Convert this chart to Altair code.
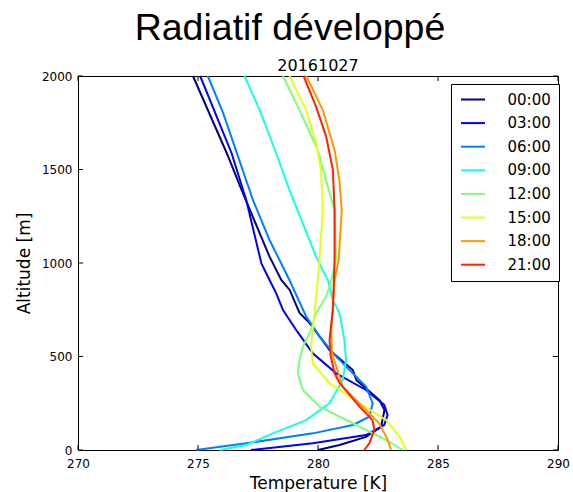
import altair as alt
import pandas as pd

# Hours of the day, one vertical profile each, coloured along the jet colormap
TIMES = ["00:00", "03:00", "06:00", "09:00", "12:00", "15:00", "18:00", "21:00"]
COLORS = ["#000080", "#0000ff", "#0080ff", "#15ffe2", "#7bff7b", "#e2ff15", "#ff9700", "#ff2100"]

# Altitude [m] and temperature [K] of each profile
ALT_00 = [2000, 1587, 1374, 1034, 909, 856, 733, 679, 588, 535, 428, 374, 267, 214, 123, 70, 27, 0]
T_00 = [274.79, 276.2, 276.87, 277.98, 278.47, 278.82, 279.23, 279.65, 280.18, 280.48, 281.45, 281.6,
        282.56, 282.77, 282.63, 282.0, 280.9, 280.0]

ALT_03 = [2000, 1587, 1337, 998, 909, 838, 749, 642, 517, 410, 321, 241, 187, 134, 80, 36, 0]
T_03 = [275.09, 276.4, 277.01, 277.64, 277.98, 278.26, 278.54, 279.09, 279.78, 280.76, 282.0, 282.76,
        282.9, 282.76, 282.0, 279.78, 277.2]

ALT_06 = [2000, 1801, 1569, 1337, 1123, 909, 713, 606, 499, 339, 250, 178, 134, 89, 36, 0]
T_06 = [275.41, 276.05, 276.67, 277.29, 277.98, 278.81, 279.51, 280.07, 280.76, 282.0, 282.28, 282.14,
        281.45, 279.79, 277.01, 274.93]

ALT_09 = [2000, 1818, 1587, 1390, 1034, 909, 802, 731, 588, 481, 374, 250, 160, 89, 27, 0]
T_09 = [276.94, 277.57, 278.26, 278.81, 279.92, 280.41, 280.62, 280.9, 281.1, 281.17, 281.03, 280.48,
        279.51, 278.12, 277.02, 275.9]

ALT_12 = [2000, 1818, 1604, 1408, 1284, 1016, 945, 873, 820, 731, 642, 552, 481, 410, 321, 232, 143, 53, 0]
T_12 = [278.54, 279.23, 279.99, 280.41, 280.69, 280.76, 280.62, 280.48, 280.34, 279.92, 279.71, 279.37,
        279.23, 279.16, 279.37, 280.06, 281.45, 282.84, 283.53]

ALT_15 = [2000, 1818, 1640, 1497, 1284, 1016, 909, 731, 552, 464, 357, 250, 160, 71, 0]
T_15 = [278.81, 279.51, 279.92, 280.13, 280.2, 280.06, 279.99, 279.85, 279.71, 279.78, 280.48, 281.73,
        282.84, 283.4, 283.67]

ALT_18 = [2000, 1818, 1604, 1444, 1284, 1016, 909, 642, 519, 339, 214, 143, 53, 0]
T_18 = [279.51, 280.2, 280.69, 280.89, 280.99, 280.86, 280.69, 280.55, 280.58, 281.03, 282.0, 282.55,
        282.91, 283.04]

ALT_21 = [2000, 1836, 1676, 1497, 1284, 1016, 749, 588, 508, 410, 358, 232, 160, 107, 36, 0]
T_21 = [279.4, 279.92, 280.34, 280.62, 280.69, 280.69, 280.62, 280.48, 280.52, 280.69, 280.9, 281.73,
        282.27, 282.35, 282.14, 281.93]

PROFILES = [
    (ALT_00, T_00), (ALT_03, T_03), (ALT_06, T_06), (ALT_09, T_09),
    (ALT_12, T_12), (ALT_15, T_15), (ALT_18, T_18), (ALT_21, T_21),
]

X_TICKS = [270, 275, 280, 285, 290]
Y_TICKS = [0, 500, 1000, 1500, 2000]
TITLE = "Radiatif développé"
SUBTITLE = "20161027"

rows = []
for time, (alts, temps) in zip(TIMES, PROFILES):
    for a, t in zip(alts, temps):
        rows.append({"time": time, "alt": a, "T": t})
df = pd.DataFrame(rows)

W, H = 480, 374
FONT = "DejaVu Sans"

x_scale = alt.Scale(domain=[270, 290], nice=False, zero=False)
y_scale = alt.Scale(domain=[0, 2000], nice=False, zero=False)

x_axis = alt.Axis(values=X_TICKS, format="d", title="Temperature [K]", ticks=False,
                  domain=False, grid=False, labelFlush=False, labelOverlap=False,
                  labelPadding=8, labelFontSize=12, labelFont=FONT, labelColor="black",
                  titleFont=FONT, titleFontSize=17, titleFontWeight="normal",
                  titleColor="black", titlePadding=6)
y_axis = alt.Axis(values=Y_TICKS, format="d", title="Altitude [m]", ticks=False,
                  domain=False, grid=False, labelOverlap=False,
                  labelPadding=6, labelFontSize=12, labelFont=FONT, labelColor="black",
                  titleFont=FONT, titleFontSize=17, titleFontWeight="normal",
                  titleColor="black", titlePadding=8)

lines = alt.Chart(df).mark_line(strokeWidth=2).encode(
    x=alt.X("T:Q", scale=x_scale, axis=x_axis),
    y=alt.Y("alt:Q", scale=y_scale, axis=y_axis),
    color=alt.Color("time:N", scale=alt.Scale(domain=TIMES, range=COLORS),
                    legend=alt.Legend(title=None, orient="none", legendX=373, legendY=8,
                                      direction="vertical", symbolType="M-2.4,0H2.4",
                                      symbolSize=100, symbolStrokeWidth=2, symbolOffset=6.5,
                                      labelOffset=27, padding=8, rowPadding=7.6,
                                      labelFontSize=15, labelFont=FONT, labelColor="black",
                                      strokeColor="black", fillColor="white", cornerRadius=0)),
    order=alt.Order("alt:Q"),
    detail="time:N",
)

# inward-pointing tick marks on all four sides of the frame
xt = pd.DataFrame({"T": X_TICKS})
yt = pd.DataFrame({"alt": Y_TICKS})
tick_style = dict(color="black", strokeWidth=1)

ticks_bottom = alt.Chart(xt).mark_rule(**tick_style).encode(
    x=alt.X("T:Q", scale=x_scale, axis=x_axis), y=alt.value(H), y2=alt.value(H - 5))
ticks_top = alt.Chart(xt).mark_rule(**tick_style).encode(
    x=alt.X("T:Q", scale=x_scale, axis=x_axis), y=alt.value(0), y2=alt.value(5))
ticks_left = alt.Chart(yt).mark_rule(**tick_style).encode(
    y=alt.Y("alt:Q", scale=y_scale, axis=y_axis), x=alt.value(0), x2=alt.value(5))
ticks_right = alt.Chart(yt).mark_rule(**tick_style).encode(
    y=alt.Y("alt:Q", scale=y_scale, axis=y_axis), x=alt.value(W), x2=alt.value(W - 5))

subtitle = alt.Chart(pd.DataFrame({"s": [SUBTITLE]})).mark_text(
    font=FONT, fontSize=16, align="center", baseline="alphabetic", color="black"
).encode(x=alt.value(W / 2), y=alt.value(-5), text="s:N")

chart = alt.layer(lines, ticks_bottom, ticks_top, ticks_left, ticks_right, subtitle).properties(
    width=W, height=H,
    title=alt.TitleParams(TITLE, font="Liberation Sans", fontSize=37.5, fontWeight="normal",
                          color="black", anchor="middle", frame="group", dx=-28, offset=11),
    autosize=alt.AutoSizeParams(type="none"),
    padding={"left": 78, "top": 76, "right": 15, "bottom": 42},
).configure(
    background="white",
    view=alt.ViewConfig(stroke="black", strokeWidth=1),
)

chart.save("out.html", embed_options={"renderer": "svg", "actions": False})
